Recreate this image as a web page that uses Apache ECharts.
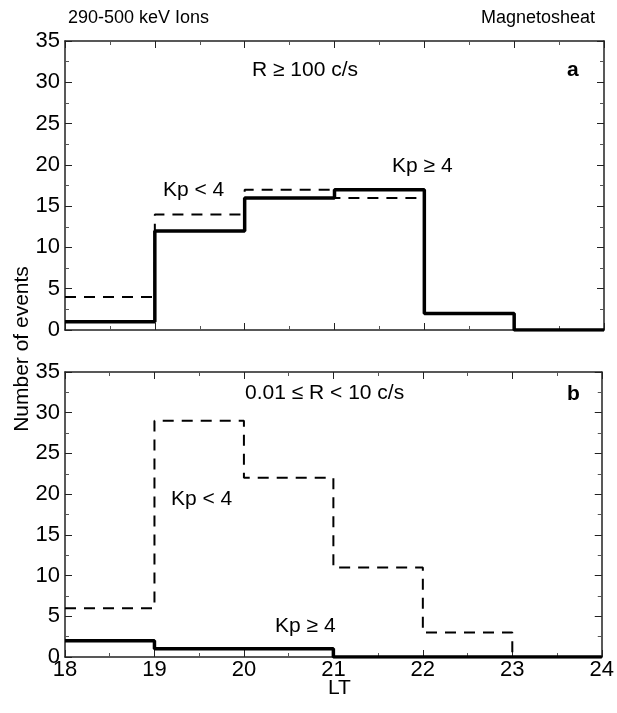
<!DOCTYPE html>
<html>
<head>
<meta charset="utf-8">
<script src="https://cdn.jsdelivr.net/npm/echarts@6/dist/echarts.min.js"></script>
<style>
html,body{margin:0;padding:0;background:#fff;}
#chart{width:617px;height:713px;}
</style>
</head>
<body>
<div id="chart"></div>
<script>
// Data
const ltEdges = [18, 19, 20, 21, 22, 23, 24];
const xTickLabels = ['18', '19', '20', '21', '22', '23', '24'];
const aKpLow = [4, 14, 17, 16, 2, 0];    // panel a, Kp < 4 (dashed)
const aKpHigh = [1, 12, 16, 17, 2, 0];   // panel a, Kp >= 4 (solid)
const bKpLow = [6, 29, 22, 11, 3, 0];    // panel b, Kp < 4 (dashed)
const bKpHigh = [2, 1, 1, 0, 0, 0];      // panel b, Kp >= 4 (solid)

function steps(vals) {
  const pts = vals.map((v, i) => [ltEdges[i], v]);
  pts.push([ltEdges[ltEdges.length - 1], vals[vals.length - 1]]);
  return pts;
}

const FONT = 'Liberation Sans';
const axisLineStyle = { color: '#222', width: 1.5 };

function xAxis(grid, pos, labels) {
  return {
    type: 'value', gridIndex: grid, position: pos, min: 18, max: 24, interval: 1,
    axisLine: { show: true, onZero: false, lineStyle: axisLineStyle },
    axisTick: { show: true, inside: true, length: 7, lineStyle: { color: '#222', width: 1 } },
    minorTick: { show: true, splitNumber: 2, length: 4, lineStyle: { color: '#555', width: 1 } },
    splitLine: { show: false },
    axisLabel: labels ? { show: true, fontFamily: FONT, fontSize: 22, color: '#000', margin: 2,
      formatter: v => xTickLabels[ltEdges.indexOf(v)] } : { show: false }
  };
}
function yAxis(grid, pos, labels) {
  return {
    type: 'value', gridIndex: grid, position: pos, min: 0, max: 35, interval: 5,
    axisLine: { show: true, onZero: false, lineStyle: axisLineStyle },
    axisTick: { show: true, inside: true, length: 7, lineStyle: { color: '#222', width: 1 } },
    minorTick: { show: true, splitNumber: 2, length: 4, lineStyle: { color: '#555', width: 1 } },
    splitLine: { show: false },
    axisLabel: labels ? { show: true, fontFamily: FONT, fontSize: 22, color: '#000', margin: 5 } : { show: false }
  };
}

function label(x, y, text, size, bold) {
  return { type: 'text', x: x, y: y,
    style: { text: text, fontFamily: FONT, fontSize: size, fontWeight: bold ? 'bold' : 'normal',
      fill: '#000', align: 'left', verticalAlign: 'middle' } };
}

const chart = echarts.init(document.getElementById('chart'), null, { renderer: 'canvas' });

chart.setOption({
  animation: false,
  backgroundColor: '#fff',
  grid: [
    { left: 65, right: 13, top: 41, height: 289 },
    { left: 65, right: 13, top: 372, height: 285 }
  ],
  xAxis: [xAxis(0, 'bottom', false), xAxis(0, 'top', false), xAxis(1, 'bottom', true), xAxis(1, 'top', false)],
  yAxis: [yAxis(0, 'left', true), yAxis(0, 'right', false), yAxis(1, 'left', true), yAxis(1, 'right', false)],
  series: [
    { type: 'line', xAxisIndex: 0, yAxisIndex: 0, step: 'end', symbol: 'none', data: steps(aKpLow),
      lineStyle: { color: '#000', width: 2, type: [11, 8] }, z: 3 },
    { type: 'line', xAxisIndex: 0, yAxisIndex: 0, step: 'end', symbol: 'none', data: steps(aKpHigh),
      lineStyle: { color: '#000', width: 3.5 }, z: 4 },
    { type: 'line', xAxisIndex: 2, yAxisIndex: 2, step: 'end', symbol: 'none', data: steps(bKpLow),
      lineStyle: { color: '#000', width: 2, type: [11, 8] }, z: 3 },
    { type: 'line', xAxisIndex: 2, yAxisIndex: 2, step: 'end', symbol: 'none', data: steps(bKpHigh),
      lineStyle: { color: '#000', width: 3.5 }, z: 4 }
  ],
  graphic: [
    label(68, 18, '290-500 keV Ions', 18),
    { type: 'text', x: 595, y: 18, style: { text: 'Magnetosheat', fontFamily: FONT, fontSize: 18, fill: '#000', align: 'right', verticalAlign: 'middle' } },
    label(252, 70, 'R \u2265 100 c/s', 21),
    label(567, 70, 'a', 21, true),
    label(163, 190, 'Kp < 4', 21),
    label(392, 166, 'Kp \u2265 4', 21),
    label(245, 393, '0.01 \u2264 R < 10 c/s', 21),
    label(567, 394, 'b', 21, true),
    label(171, 499, 'Kp < 4', 21),
    label(275, 626, 'Kp \u2265 4', 21),
    label(328, 688, 'LT', 21),
    { type: 'text', x: 22, y: 349, rotation: Math.PI / 2,
      style: { text: 'Number of events', fontFamily: FONT, fontSize: 21, fill: '#000', align: 'center', verticalAlign: 'middle' } }
  ]
});
</script>
</body>
</html>
